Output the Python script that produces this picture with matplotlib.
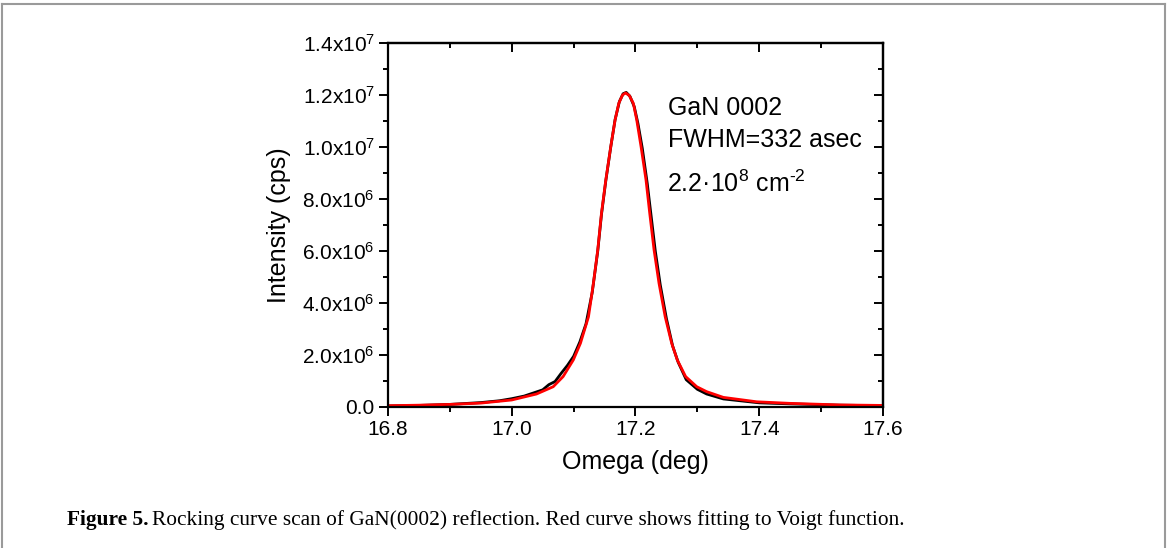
import numpy as np
import matplotlib
matplotlib.use("Agg")
import matplotlib.pyplot as plt
from matplotlib.ticker import MultipleLocator
from matplotlib.lines import Line2D

plt.rcParams['font.family'] = ['Liberation Sans', 'DejaVu Sans']
plt.rcParams['mathtext.fontset'] = 'custom'
plt.rcParams['mathtext.rm'] = 'Liberation Sans'
plt.rcParams['mathtext.it'] = 'Liberation Sans:italic'
plt.rcParams['mathtext.bf'] = 'Liberation Sans:bold'

# --- data (intensity in units of 1e6 cps) ---
omega_meas = [16.80, 16.85, 16.90, 16.95, 16.98, 17.00, 17.02, 17.03, 17.04, 17.05,
              17.06, 17.07, 17.08, 17.09, 17.10, 17.11, 17.12, 17.13, 17.139, 17.145,
              17.152, 17.160, 17.167, 17.174, 17.180, 17.185, 17.191, 17.198, 17.204, 17.211,
              17.219, 17.225, 17.232, 17.240, 17.250, 17.260, 17.269, 17.282, 17.300, 17.315,
              17.342, 17.400, 17.450, 17.530, 17.600]
intensity_meas = [0.04, 0.06, 0.10, 0.17, 0.24, 0.32, 0.42, 0.50, 0.58, 0.66,
                  0.86, 0.98, 1.30, 1.60, 1.95, 2.50, 3.20, 4.40, 6.00, 7.40,
                  8.70, 10.00, 11.05, 11.75, 12.05, 12.10, 11.95, 11.55, 10.90, 9.95,
                  8.60, 7.40, 6.00, 4.70, 3.40, 2.35, 1.72, 1.05, 0.68, 0.50,
                  0.31, 0.16, 0.12, 0.07, 0.05]

omega_fit = [16.80, 16.85, 16.90, 16.95, 17.00, 17.04, 17.067, 17.083, 17.0995, 17.111,
             17.124, 17.132, 17.139, 17.145, 17.152, 17.160, 17.167, 17.173, 17.179, 17.184,
             17.190, 17.1965, 17.202, 17.209, 17.217, 17.223, 17.230, 17.238, 17.248, 17.2585,
             17.2675, 17.281, 17.299, 17.315, 17.342, 17.396, 17.45, 17.53, 17.60]
intensity_fit = [0.05, 0.07, 0.10, 0.15, 0.27, 0.50, 0.78, 1.17, 1.81, 2.45,
                 3.47, 4.76, 6.04, 7.45, 8.73, 10.01, 11.04, 11.68, 12.00, 12.08,
                 11.98, 11.68, 11.04, 10.01, 8.73, 7.45, 6.04, 4.76, 3.47, 2.45,
                 1.81, 1.17, 0.78, 0.59, 0.37, 0.20, 0.14, 0.08, 0.06]

xticks = [16.8, 17.0, 17.2, 17.4, 17.6]
xtick_labels = ["16.8", "17.0", "17.2", "17.4", "17.6"]
yticks = [0, 2e6, 4e6, 6e6, 8e6, 1.0e7, 1.2e7, 1.4e7]
ytick_labels = ["0.0", "2.0x10$^{6}$", "4.0x10$^{6}$", "6.0x10$^{6}$", "8.0x10$^{6}$",
                "1.0x10$^{7}$", "1.2x10$^{7}$", "1.4x10$^{7}$"]

W, H = 1168, 548
fig = plt.figure(figsize=(W / 100, H / 100), dpi=100)
ax = fig.add_axes([388 / W, 1 - 407 / H, (883 - 388) / W, (407 - 43) / H])

ax.plot(omega_meas, np.array(intensity_meas) * 1e6, color='black', lw=2.0)
ax.plot(omega_fit, np.array(intensity_fit) * 1e6, color='#ff0000', lw=2.0)

ax.set_xlim(16.8, 17.6)
ax.set_ylim(0, 1.4e7)
ax.set_xticks(xticks)
ax.set_xticklabels(xtick_labels)
ax.set_yticks(yticks)
ax.set_yticklabels(ytick_labels)
ax.xaxis.set_minor_locator(MultipleLocator(0.1))
ax.yaxis.set_minor_locator(MultipleLocator(1e6))
ax.tick_params(which='major', direction='out', length=6.5, width=1.4, labelsize=15, pad=3)
ax.tick_params(which='minor', direction='out', length=3.5, width=1.4)
for s in ax.spines.values():
    s.set_linewidth(1.6)

# mirrored ticks pointing inward on top and right
secx = ax.secondary_xaxis('top')
secx.set_xticks(xticks)
secx.xaxis.set_minor_locator(MultipleLocator(0.1))
secx.tick_params(which='major', direction='in', length=6.5, width=1.4, labeltop=False)
secx.tick_params(which='minor', direction='in', length=3.5, width=1.4)
secx.spines['top'].set_linewidth(1.6)
secy = ax.secondary_yaxis('right')
secy.set_yticks(yticks)
secy.yaxis.set_minor_locator(MultipleLocator(1e6))
secy.tick_params(which='major', direction='in', length=6.5, width=1.4, labelright=False)
secy.tick_params(which='minor', direction='in', length=3.5, width=1.4)
secy.spines['right'].set_linewidth(1.6)

ax.set_xlabel("Omega (deg)", fontsize=18, labelpad=8)
ax.set_ylabel("Intensity (cps)", fontsize=18, labelpad=8)

ax.text(0.565, 0.821, "GaN 0002", transform=ax.transAxes, fontsize=18, va='center')
ax.text(0.565, 0.734, "FWHM=332 asec", transform=ax.transAxes, fontsize=18, va='center')
ax.text(0.563, 0.612, "2.2\u00b710$^{8}$ cm$^{\u2010 2}$", transform=ax.transAxes,
        fontsize=18, va='center')

# page frame
frame = dict(color='#9a9a9a', lw=1.5, transform=fig.transFigure)
fig.add_artist(Line2D([2 / W, 1165 / W], [1 - 4 / H, 1 - 4 / H], **frame))
fig.add_artist(Line2D([2 / W, 2 / W], [0, 1 - 4 / H], **frame))
fig.add_artist(Line2D([1165 / W, 1165 / W], [0, 1 - 4 / H], **frame))

# caption
cap_y = 1 - 520 / H
t1 = fig.text(67 / W, cap_y, "Figure 5.", fontsize=15.4, fontweight='bold',
              family='Liberation Serif', va='center')
fig.canvas.draw()
bb = t1.get_window_extent(renderer=fig.canvas.get_renderer())
fig.text(bb.x1 / W + 3 / W, cap_y,
         "Rocking curve scan of GaN(0002) reflection. Red curve shows fitting to Voigt function.",
         fontsize=15.4, family='Liberation Serif', va='center')

fig.savefig("out.png", dpi=100)
